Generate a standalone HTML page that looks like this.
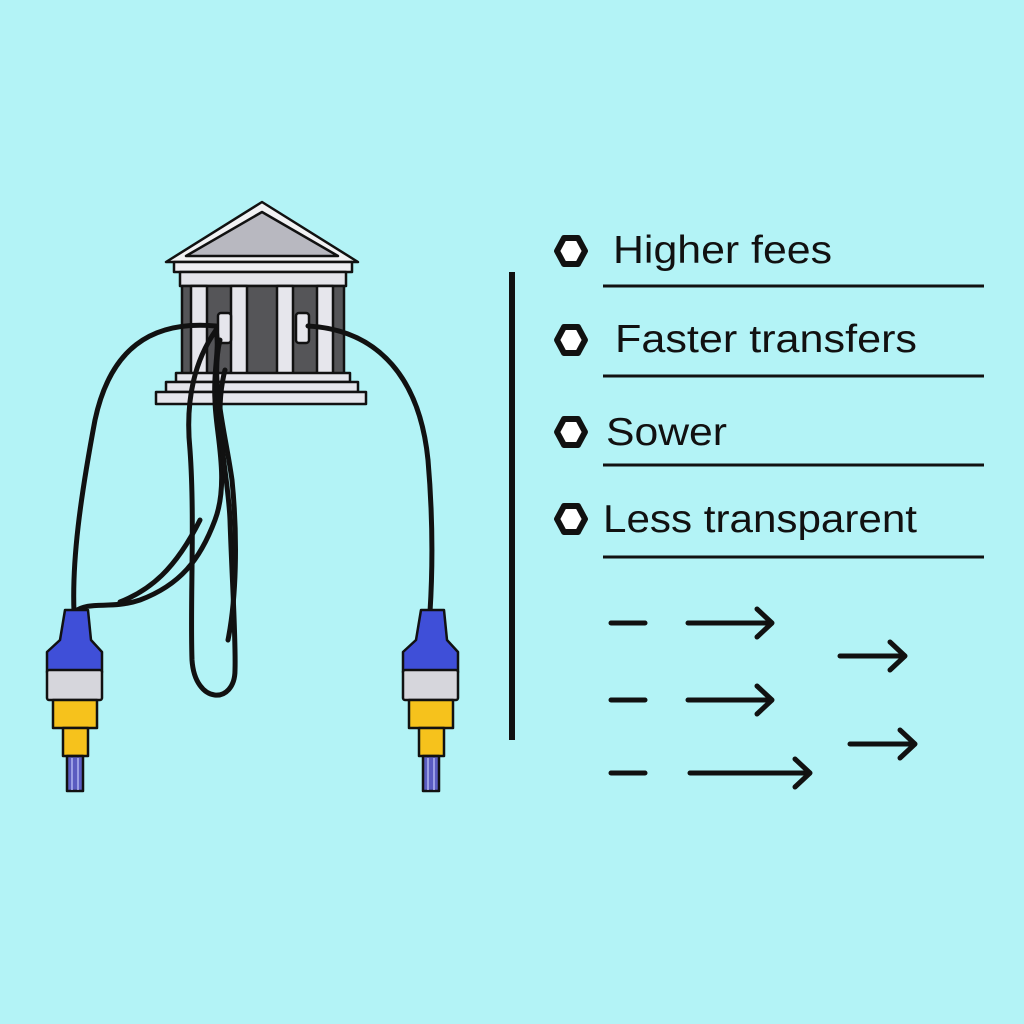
<!DOCTYPE html>
<html><head><style>
html,body{margin:0;padding:0;background:#b3f3f6;}
svg{display:block}
text{font-family:"Liberation Sans","DejaVu Sans",sans-serif;fill:#111;}
</style></head><body>
<svg width="1024" height="1024" viewBox="0 0 1024 1024" xmlns="http://www.w3.org/2000/svg">
<rect width="1024" height="1024" fill="#b3f3f6"/>
<g stroke="#111" stroke-width="2.5" stroke-linejoin="round">
<polygon points="262,202 166,262 358,262" fill="#f2f2f4"/>
<polygon points="262,212 186,256 338,256" fill="#b8b8c0"/>
<rect x="174" y="262" width="178" height="10" fill="#eeeef2"/>
<rect x="180" y="272" width="166" height="14" fill="#e4e4ea"/>
<rect x="182" y="286" width="162" height="88" fill="#555558"/>
<rect x="191" y="286" width="16" height="88" fill="#e6e6ec"/>
<rect x="231" y="286" width="16" height="88" fill="#e6e6ec"/>
<rect x="277" y="286" width="16" height="88" fill="#e6e6ec"/>
<rect x="317" y="286" width="16" height="88" fill="#e6e6ec"/>
<rect x="218" y="313" width="13" height="30" rx="3" fill="#e6e6ec"/>
<rect x="296" y="313" width="13" height="30" rx="3" fill="#e6e6ec"/>
<rect x="176" y="373" width="174" height="9" fill="#e6e6ec"/>
<rect x="166" y="382" width="192" height="10" fill="#e6e6ec"/>
<rect x="156" y="392" width="210" height="12" fill="#e6e6ec"/>
</g>
<g fill="none" stroke="#111" stroke-width="5" stroke-linecap="round">
<path d="M216,326 C150,320 110,350 95,420 C80,500 72,560 74,612"/>
<path d="M308,326 C380,330 420,380 428,460 C434,530 432,580 430,612"/>
<path d="M74,612 C90,600 110,610 140,600 C180,585 200,560 215,520 C230,480 215,430 215,400 C213,370 220,350 216,330"/>
<path d="M216,330 C195,360 185,400 190,450 C195,520 190,600 192,660 C195,705 235,705 235,670 C236,640 232,580 230,520 C228,470 212,420 225,370"/>
<path d="M220,340 C210,380 225,430 232,480 C238,540 236,600 228,640"/>
<path d="M120,602 C150,590 175,570 200,520"/>
</g>
<g id="conn" stroke="#111" stroke-width="2.5" stroke-linejoin="round">
<path d="M65,610 L88,610 L91,640 L102,652 L102,672 L47,672 L47,652 L60,640 Z" fill="#3f4fd8"/>
<rect x="47" y="670" width="55" height="30" rx="2" fill="#d6d6dc"/>
<rect x="53" y="700" width="44" height="28" fill="#f6c21c"/>
<rect x="63" y="728" width="25" height="28" fill="#f6c21c"/>
<rect x="67" y="756" width="16" height="35" fill="#5a5cc0"/>
<line x1="72" y1="758" x2="72" y2="790" stroke="#b0b4f0" stroke-width="1.5"/>
<line x1="78" y1="758" x2="78" y2="790" stroke="#b0b4f0" stroke-width="1.5"/>
</g>
<use href="#conn" transform="translate(356,0)"/>
<line x1="512" y1="272" x2="512" y2="740" stroke="#111" stroke-width="6"/>
<g fill="#fff" stroke="#111" stroke-width="6" stroke-linejoin="round">
<polygon points="564,238 578,238 585,251 578,264 564,264 557,251"/>
<polygon points="564,327 578,327 585,340 578,353 564,353 557,340"/>
<polygon points="564,419 578,419 585,432 578,445 564,445 557,432"/>
<polygon points="564,506 578,506 585,519 578,532 564,532 557,519"/>
</g>
<g font-size="39">
<text x="613" y="263" textLength="219" lengthAdjust="spacingAndGlyphs">Higher fees</text>
<text x="615" y="352" textLength="302" lengthAdjust="spacingAndGlyphs">Faster transfers</text>
<text x="606" y="445" textLength="121" lengthAdjust="spacingAndGlyphs">Sower</text>
<text x="603" y="532" textLength="314" lengthAdjust="spacingAndGlyphs">Less transparent</text>
</g>
<g stroke="#111" stroke-width="3">
<line x1="603" y1="286" x2="984" y2="286"/>
<line x1="603" y1="376" x2="984" y2="376"/>
<line x1="603" y1="465" x2="984" y2="465"/>
<line x1="603" y1="557" x2="984" y2="557"/>
</g>
<g stroke="#111" stroke-width="5" stroke-linecap="round" fill="none" stroke-linejoin="round">
<line x1="611" y1="623" x2="645" y2="623"/>
<line x1="611" y1="700" x2="645" y2="700"/>
<line x1="611" y1="773" x2="645" y2="773"/>
<line x1="688" y1="623" x2="770" y2="623"/><path d="M757,609 L772,623 L757,637"/>
<line x1="688" y1="700" x2="770" y2="700"/><path d="M757,686 L772,700 L757,714"/>
<line x1="690" y1="773" x2="808" y2="773"/><path d="M795,759 L810,773 L795,787"/>
<line x1="840" y1="656" x2="903" y2="656"/><path d="M890,642 L905,656 L890,670"/>
<line x1="850" y1="744" x2="913" y2="744"/><path d="M900,730 L915,744 L900,758"/>
</g>
</svg>
</body></html>
